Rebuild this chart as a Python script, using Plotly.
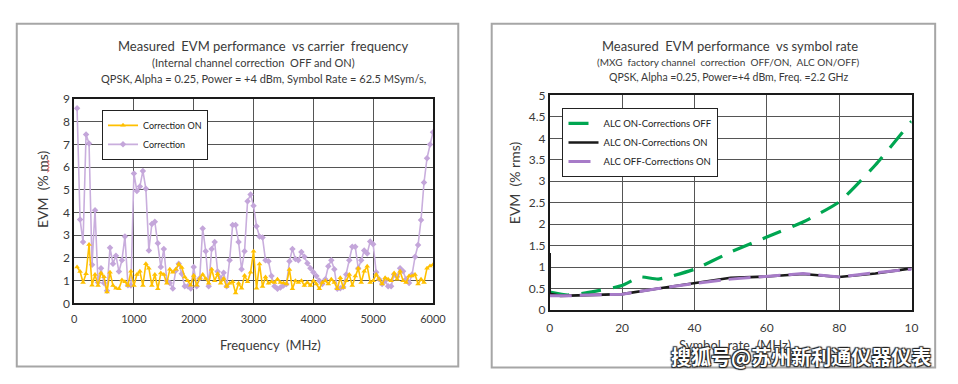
import plotly.graph_objects as go

W, H = 958, 384

# ---------------- Left chart data (EVM vs carrier frequency) ----------------
freq_mhz = list(range(50, 6001, 50))

evm_correction_off = [
    8.6, 3.7, 2.7, 7.45, 7.05, 1.7, 4.1, 0.92, 1.55, 0.9,
    0.55, 2.45, 1.75, 2.1, 1.4, 1.9, 2.95, 0.8, 0.78, 5.73,
    4.95, 5.15, 5.84, 5.05, 2.33, 3.5, 3.6, 2.65, 1.6, 2.4,
    1.0, 0.9, 0.65, 1.45, 1.75, 1.3, 0.75, 0.75, 0.65, 1.6,
    0.75, 1.1, 3.3, 2.3, 0.75, 2.4, 2.7, 1.4, 1.1, 1.35,
    0.75, 1.9, 3.45, 3.45, 2.7, 1.5, 2.3, 4.5, 4.8, 4.3,
    3.4, 2.95, 2.9, 1.9, 1.85, 1.2, 0.75, 0.64, 0.7, 0.78,
    0.85, 1.85, 2.4, 1.95, 1.9, 2.26, 2.05, 1.77, 1.55, 1.37,
    1.2, 1.0, 0.85, 1.06, 1.63, 1.9, 1.5, 0.64, 0.66, 0.72,
    1.27, 1.9, 2.5, 2.5, 1.55, 1.9, 2.33, 2.2, 2.73, 2.6,
    1.37, 1.06, 0.85, 1.0, 0.75, 0.75, 1.27, 1.17, 1.55, 1.41,
    1.06, 0.9, 1.27, 2.05, 2.57, 3.68, 5.33, 6.4, 7.0, 7.55,
]

evm_correction_on = [
    1.6, 1.4, 0.92, 1.3, 2.59, 0.8, 1.27, 0.78, 1.34, 1.17,
    0.5, 1.37, 0.78, 0.66, 0.64, 1.03, 0.95, 0.78, 1.41, 0.78,
    1.27, 1.41, 0.78, 1.74, 1.55, 0.78, 1.27, 0.64, 1.34, 1.27,
    0.88, 1.5, 1.37, 1.5, 1.73, 1.58, 1.16, 1.0, 0.8, 1.23,
    0.8, 1.09, 1.27, 1.09, 0.88, 1.5, 1.0, 1.3, 0.88, 1.09,
    0.74, 0.88, 0.95, 0.45, 0.88, 0.66, 1.23, 0.95, 1.37, 2.3,
    0.66, 1.73, 0.74, 1.16, 0.88, 0.95, 0.92, 1.06, 0.92, 0.9,
    0.85, 1.49, 0.64, 1.0, 0.92, 1.0, 0.78, 0.92, 0.78, 1.0,
    0.85, 0.64, 0.92, 1.0, 0.85, 1.06, 0.92, 0.64, 1.13, 0.7,
    1.0, 1.27, 0.78, 1.2, 1.55, 0.92, 1.41, 1.63, 0.92, 1.0,
    1.27, 1.06, 0.85, 1.13, 1.06, 1.0, 1.34, 1.06, 1.41, 1.0,
    0.92, 1.2, 1.2, 1.27, 0.85, 1.06, 0.92, 1.55, 1.65, 1.7,
]

freq_ticks = [0, 1000, 2000, 3000, 4000, 5000, 6000]
evm_left_ticks = list(range(0, 10))

# ---------------- Right chart data (EVM vs symbol rate) ----------------
sr_alc_on_corr_off = [0, 5, 10, 20, 25, 30, 40, 50, 60, 70, 80, 90, 100]
evm_alc_on_corr_off = [0.42, 0.35, 0.4, 0.57, 0.77, 0.72, 0.95, 1.35, 1.7, 2.05, 2.52, 3.38, 4.4]

sr_alc_on_corr_on = [0, 0, 3, 10, 20, 30, 40, 50, 60, 70, 80, 90, 100]
evm_alc_on_corr_on = [1.33, 0.38, 0.33, 0.35, 0.37, 0.5, 0.63, 0.75, 0.78, 0.84, 0.77, 0.85, 0.97]

sr_alc_off_corr_on = [0, 5, 10, 20, 30, 40, 50, 60, 70, 80, 90, 100]
evm_alc_off_corr_on = [0.33, 0.33, 0.35, 0.37, 0.5, 0.62, 0.72, 0.78, 0.85, 0.77, 0.87, 0.95]

sr_tickvals = [0, 20, 40, 60, 80, 100]
sr_ticktext = ["0", "20", "40", "60", "80", "10"]
evm_right_ticks = [0, 0.5, 1, 1.5, 2, 2.5, 3, 3.5, 4, 4.5, 5]
evm_right_ticktext = ["0", "0.5", "1", "1.5", "2", "2.5", "3", "3.5", "4", "4.5", "5"]

FONT = "Lato, 'Open Sans', sans-serif"
TXT = "#3a3a3a"


def px(x):
    return x / W


def py(y):
    return 1 - y / H


fig = go.Figure()

# Left chart traces
fig.add_trace(go.Scatter(
    x=freq_mhz, y=evm_correction_off, mode="lines+markers", name="Correction",
    line=dict(color="#C9AEDD", width=1.6),
    marker=dict(symbol="diamond", size=5, color="#C4A6DA"),
    xaxis="x", yaxis="y", legend="legend", legendrank=2,
))
fig.add_trace(go.Scatter(
    x=freq_mhz, y=evm_correction_on, mode="lines+markers", name="Correction ON",
    line=dict(color="#FFC000", width=1.6),
    marker=dict(symbol="triangle-up", size=5, color="#FFC000"),
    xaxis="x", yaxis="y", legend="legend", legendrank=1,
))

# Right chart traces
fig.add_trace(go.Scatter(
    x=sr_alc_on_corr_off, y=evm_alc_on_corr_off, mode="lines", name="ALC ON-Corrections OFF",
    line=dict(color="#00A651", width=3.2, dash="20px,12px", shape="spline", smoothing=0.5),
    xaxis="x2", yaxis="y2", legend="legend2",
))
fig.add_trace(go.Scatter(
    x=sr_alc_on_corr_on, y=evm_alc_on_corr_on, mode="lines", name="ALC ON-Corrections ON",
    line=dict(color="#1a1a1a", width=2.6),
    xaxis="x2", yaxis="y2", legend="legend2",
))
fig.add_trace(go.Scatter(
    x=sr_alc_off_corr_on, y=evm_alc_off_corr_on, mode="lines", name="ALC OFF-Corrections ON",
    line=dict(color="#A77BC8", width=3.0, dash="22px,8px"),
    xaxis="x2", yaxis="y2", legend="legend2",
))

axis_common = dict(
    showgrid=True, gridcolor="#555555", gridwidth=1,
    showline=True, linecolor="#1a1a1a", linewidth=1.5, mirror=True,
    zeroline=False, ticks="", fixedrange=True,
)

fig.update_layout(
    width=W, height=H,
    margin=dict(l=0, r=0, t=0, b=0),
    paper_bgcolor="white", plot_bgcolor="white",
    font=dict(family=FONT, color=TXT, size=11),
    xaxis=dict(domain=[px(72.3), px(437.3)], range=[0, 6000], tickvals=freq_ticks,
               tickfont=dict(size=11, color=TXT), anchor="y", ticklabelstandoff=5,
               **axis_common),
    yaxis=dict(domain=[py(307.3), py(95)], range=[0, 9], tickvals=evm_left_ticks,
               tickfont=dict(size=12, color=TXT), anchor="x", **axis_common),
    xaxis2=dict(domain=[px(556), px(924)], range=[0, 100], tickvals=sr_tickvals,
                ticktext=sr_ticktext, tickfont=dict(size=12, color=TXT), anchor="y2",
                ticklabelstandoff=6, **axis_common),
    yaxis2=dict(domain=[py(314.3), py(91)], range=[0, 5], tickvals=evm_right_ticks,
                ticktext=evm_right_ticktext, tickfont=dict(size=12, color=TXT), anchor="x2",
                **axis_common),
    legend=dict(x=px(100.7), y=py(106), xanchor="left", yanchor="top",
                bgcolor="white", bordercolor="#222222", borderwidth=1,
                font=dict(size=9, color="#222222", family=FONT),
                itemwidth=30, tracegroupgap=0),
    legend2=dict(x=px(569), y=py(104), xanchor="left", yanchor="top",
                 bgcolor="white", bordercolor="#222222", borderwidth=1,
                 font=dict(size=9.5, color="#222222", family=FONT),
                 itemwidth=30, tracegroupgap=0),
    showlegend=True,
)

# Outer frames around each chart
for x0, y0, x1, y1 in [(14, 16.5, 463, 373), (497, 16.5, 948, 374)]:
    fig.add_shape(type="rect", xref="paper", yref="paper",
                  x0=px(x0), x1=px(x1), y0=py(y1), y1=py(y0),
                  line=dict(color="#A6A6A6", width=2), fillcolor="rgba(0,0,0,0)",
                  layer="below")

# Red spell-check squiggle beside "ms" in the left y-axis title
sq_pts = []
y_cur, left = 158.0, True
while y_cur <= 171.0:
    sq_pts.append((45.0 if left else 47.0, y_cur))
    left = not left
    y_cur += 1.6
sq_path = "M " + " L ".join(f"{px(a):.5f},{py(b):.5f}" for a, b in sq_pts)
fig.add_shape(type="path", xref="paper", yref="paper", path=sq_path,
              line=dict(color="#E03030", width=0.9))


def ann(text, x, y, size, angle=0, **kw):
    fig.add_annotation(text=text, x=px(x), y=py(y), xref="paper", yref="paper",
                       showarrow=False, textangle=angle, xanchor="center", yanchor="middle",
                       font=dict(size=size, color=kw.pop("color", TXT), family=FONT, **kw))

# Left titles
ann("Measured  EVM performance  vs carrier  frequency", 265, 40, 13)
ann("(Internal channel correction  OFF and ON)", 255, 57, 11)
ann("QPSK, Alpha = 0.25, Power = +4 dBm, Symbol Rate = 62.5 MSym/s,", 265, 73, 11)
ann("Frequency  (MHz)", 272, 351, 13)
ann("EVM  (% ms)", 40, 188, 14, angle=-90)

# Right titles
ann("Measured  EVM performance  vs symbol rate", 739, 40, 13)
ann("(MXG  factory channel  correction  OFF/ON,  ALC ON/OFF)", 738, 56, 10)
ann("QPSK, Alpha =0.25, Power=+4 dBm, Freq. =2.2 GHz", 738, 72, 10.5)
ann("EVM  (% rms)", 521, 182, 14, angle=-90)
ann("Symbol  rate  (MHz)", 744, 351, 13)

# Watermark
fig.add_annotation(
    text="<b>搜狐号@苏州新利通仪器仪表</b>", x=px(812), y=py(363), xref="paper", yref="paper",
    showarrow=False, xanchor="center", yanchor="middle",
    font=dict(size=20, color="white", family="'Noto Sans CJK SC', sans-serif",
              shadow="1px 1px 1px #222, -1px -1px 1px #222, 1px -1px 1px #222, -1px 1px 1px #222"),
)

fig.write_html(
    "out.html",
    config={"displayModeBar": False},
    post_script="document.body.style.margin='0';document.body.style.overflow='hidden';",
)
